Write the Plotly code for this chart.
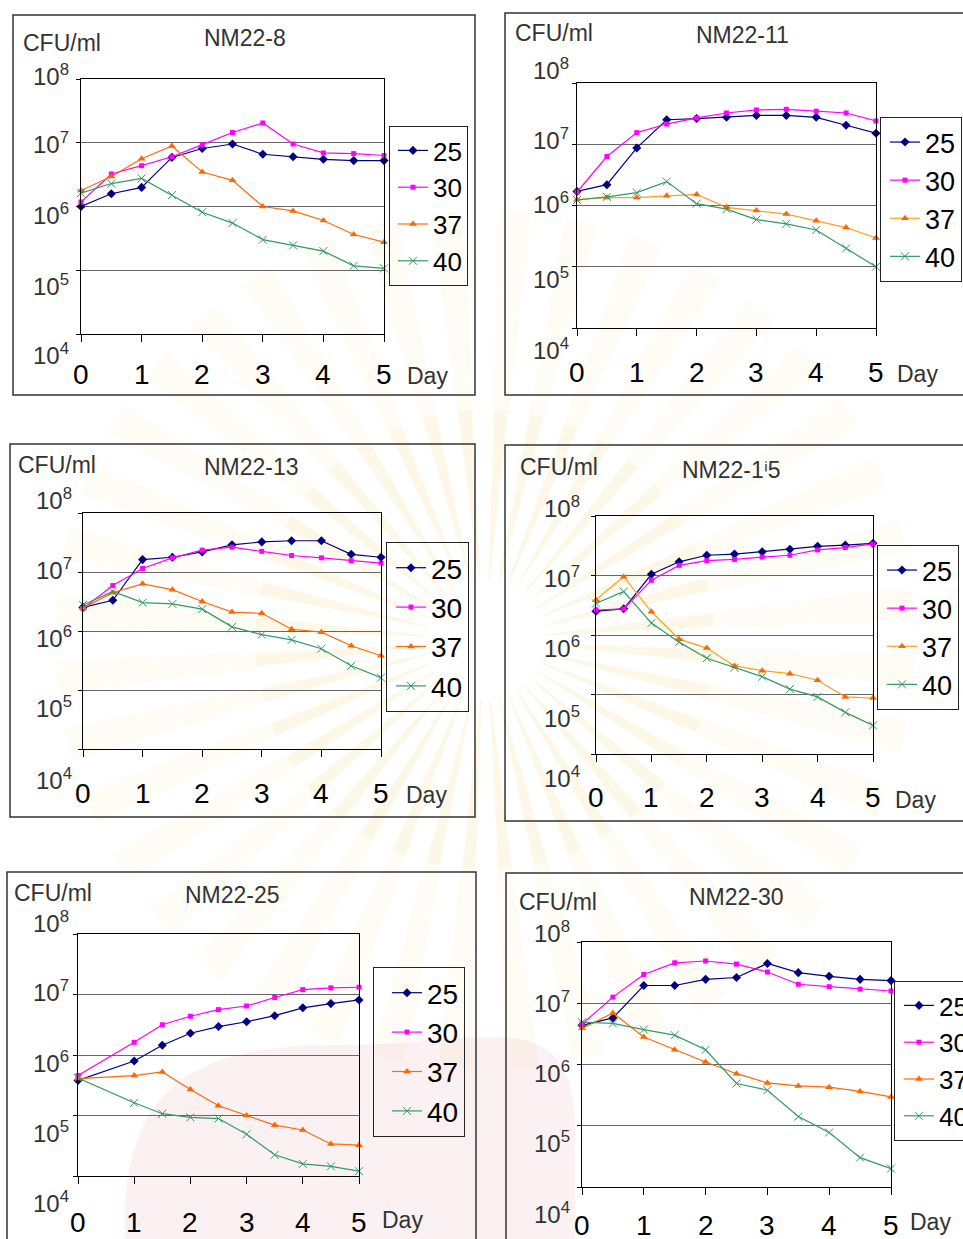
import math
import plotly.graph_objects as go

W, H = 963, 1239


def px(x):
    return x / W


def py(y):
    return 1 - y / H


# ---------------- data: log10(CFU/ml) by day and incubation temperature ----------------
days = [0, 0.5, 1, 1.5, 2, 2.5, 3, 3.5, 4, 4.5, 5]
days_nm22_25 = [0, 1, 1.5, 2, 2.5, 3, 3.5, 4, 4.5, 5]
temps = ["25", "30", "37", "40"]
strains = ["NM22-8", "NM22-11", "NM22-13", "NM22-1ⁱ5", "NM22-25", "NM22-30"]
day_labels = ["0", "1", "2", "3", "4", "5"]
decades = [8, 7, 6, 5, 4]

nm22_8 = {
    "25": [6.00, 6.20, 6.30, 6.77, 6.91, 6.98, 6.82, 6.78, 6.74, 6.72, 6.72],
    "30": [6.07, 6.51, 6.64, 6.78, 6.97, 7.16, 7.31, 6.98, 6.84, 6.83, 6.80],
    "37": [6.25, 6.47, 6.75, 6.95, 6.54, 6.41, 6.00, 5.93, 5.78, 5.56, 5.44],
    "40": [6.21, 6.36, 6.44, 6.18, 5.91, 5.74, 5.48, 5.39, 5.30, 5.07, 5.03],
}
nm22_11 = {
    "25": [6.23, 6.34, 6.94, 7.40, 7.42, 7.44, 7.47, 7.47, 7.44, 7.31, 7.18],
    "30": [6.22, 6.80, 7.19, 7.33, 7.43, 7.51, 7.56, 7.57, 7.54, 7.51, 7.38],
    "37": [6.10, 6.13, 6.13, 6.16, 6.18, 5.97, 5.92, 5.86, 5.75, 5.64, 5.47],
    "40": [6.09, 6.14, 6.21, 6.39, 6.03, 5.94, 5.77, 5.70, 5.60, 5.30, 5.00],
}
nm22_13 = {
    "25": [6.40, 6.52, 7.21, 7.25, 7.34, 7.46, 7.51, 7.53, 7.53, 7.30, 7.25],
    "30": [6.38, 6.77, 7.06, 7.24, 7.37, 7.42, 7.35, 7.28, 7.24, 7.19, 7.15],
    "37": [6.39, 6.65, 6.80, 6.70, 6.50, 6.32, 6.30, 6.03, 5.98, 5.75, 5.58],
    "40": [6.44, 6.67, 6.48, 6.46, 6.37, 6.07, 5.94, 5.85, 5.70, 5.41, 5.21],
}
nm22_15 = {
    "25": [6.40, 6.44, 7.02, 7.23, 7.34, 7.36, 7.40, 7.44, 7.49, 7.51, 7.54],
    "30": [6.42, 6.44, 6.92, 7.17, 7.25, 7.27, 7.31, 7.34, 7.43, 7.47, 7.53],
    "37": [6.59, 6.98, 6.39, 5.93, 5.78, 5.48, 5.40, 5.35, 5.24, 4.96, 4.94],
    "40": [6.53, 6.73, 6.20, 5.88, 5.61, 5.45, 5.30, 5.09, 4.96, 4.70, 4.48],
}
nm22_25 = {
    "25": [5.58, 5.90, 6.16, 6.36, 6.47, 6.55, 6.65, 6.78, 6.85, 6.91],
    "30": [5.66, 6.21, 6.50, 6.64, 6.75, 6.81, 6.95, 7.08, 7.11, 7.12],
    "37": [5.61, 5.66, 5.72, 5.43, 5.16, 5.00, 4.84, 4.76, 4.53, 4.51],
    "40": [5.62, 5.21, 5.03, 4.97, 4.95, 4.69, 4.35, 4.20, 4.16, 4.08],
}
nm22_30 = {
    "25": [6.64, 6.76, 7.29, 7.29, 7.39, 7.42, 7.65, 7.50, 7.44, 7.39, 7.37],
    "30": [6.66, 7.10, 7.47, 7.66, 7.69, 7.64, 7.51, 7.31, 7.27, 7.23, 7.20],
    "37": [6.59, 6.84, 6.45, 6.24, 6.04, 5.85, 5.70, 5.65, 5.63, 5.56, 5.47],
    "40": [6.69, 6.67, 6.57, 6.48, 6.24, 5.69, 5.58, 5.15, 4.89, 4.48, 4.30],
}

series = [nm22_8, nm22_11, nm22_13, nm22_15, nm22_25, nm22_30]
x_days = [days, days, days, days, days_nm22_25, days]

# ---------------- panel geometry (pixels) ----------------
panels = [
    dict(box=(13, 15, 475, 395), plot=(81, 79, 384, 334), ylab_x=31,
         ylab_y=[78, 146, 217, 288, 357], xlab_y=374, day=(427, 376),
         cfu=(21, 43), title=(245, 38), leg=(389, 126), leg_fs=26, indent=3,
         orange_line="#ff6a0a"),
    dict(box=(505, 13, 990, 395), plot=(577, 83, 876, 328), ylab_x=531,
         ylab_y=[72, 142, 206, 281, 352], xlab_y=372, day=(917, 374),
         cfu=(513, 33), title=(742, 35), leg=(880, 117), leg_fs=27, indent=4,
         orange_line="#ffa020"),
    dict(box=(10, 444, 475, 817), plot=(83, 513, 381, 749), ylab_x=34,
         ylab_y=[502, 572, 640, 710, 782], xlab_y=793, day=(426, 795),
         cfu=(16, 465), title=(251, 467), leg=(386, 542), leg_fs=28, indent=4,
         orange_line="#ff6a0a"),
    dict(box=(505, 445, 990, 821), plot=(596, 516, 873, 754), ylab_x=542,
         ylab_y=[510, 580, 650, 720, 780], xlab_y=797, day=(915, 800),
         cfu=(518, 467), title=(731, 470), leg=(877, 545), leg_fs=27, indent=4,
         orange_line="#ffa020"),
    dict(box=(7, 872, 476, 1260), plot=(78, 934, 359, 1176), ylab_x=31,
         ylab_y=[925, 994, 1065, 1135, 1205], xlab_y=1222, day=(402, 1220),
         cfu=(12, 893), title=(232, 895), leg=(373, 967), leg_fs=28, indent=13,
         orange_line="#ff6a0a"),
    dict(box=(506, 873, 990, 1260), plot=(582, 942, 891, 1187), ylab_x=532,
         ylab_y=[935, 1005, 1075, 1145, 1216], xlab_y=1225, day=(930, 1222),
         cfu=(517, 902), title=(736, 897), leg=(894, 981), leg_fs=26, indent=4,
         orange_line="#ff6a0a"),
]

FONT = "Liberation Sans, Arial, sans-serif"
TEXT_GREY = "#333333"

styles = {
    "25": dict(color="#000080", symbol="diamond", size=7),
    "30": dict(color="#ff00ff", symbol="square", size=5),
    "37": dict(color="#ff6600", symbol="triangle-up", size=7),
    "40": dict(color="#339966", symbol="x-thin", size=8),
}

fig = go.Figure()
layout = dict(
    width=W, height=H, autosize=False,
    margin=dict(l=0, r=0, t=0, b=0, autoexpand=False),
    paper_bgcolor="white", plot_bgcolor="rgba(0,0,0,0)",
    showlegend=True, font=dict(family=FONT, color="black"),
)
annotations = []
shapes = []


def ray_path(cx, cy, ang_deg, half_deg, r0, r1):
    ang, half = math.radians(ang_deg), math.radians(half_deg)
    pts = [
        (cx + r0 * math.cos(ang - half / 3), cy + r0 * math.sin(ang - half / 3)),
        (cx + r1 * math.cos(ang - half), cy + r1 * math.sin(ang - half)),
        (cx + r1 * math.cos(ang + half), cy + r1 * math.sin(ang + half)),
        (cx + r0 * math.cos(ang + half / 3), cy + r0 * math.sin(ang + half / 3)),
    ]
    return "M " + " L ".join(f"{px(a):.5f},{py(b):.5f}" for a, b in pts) + " Z"


# faint emblem watermark behind the panels: radiating rays and a pale pink disc
cx, cy = 485, 640
for k in range(40):
    a = -180 + k * 9 + 4
    shapes.append(dict(type="path", xref="paper", yref="paper",
                       path=ray_path(cx, cy, a, 2.2, 60, 430),
                       fillcolor="rgba(235,200,90,0.06)", line=dict(width=0),
                       layer="below"))
    shapes.append(dict(type="path", xref="paper", yref="paper",
                       path=ray_path(cx, cy, a, 1.6, 60, 230),
                       fillcolor="rgba(235,190,70,0.08)", line=dict(width=0),
                       layer="below"))
shapes.append(dict(type="path", xref="paper", yref="paper",
                   path=(f"M {px(125):.5f},{py(1239):.5f} "
                         f"C {px(120):.5f},{py(1080):.5f} {px(200):.5f},{py(1045):.5f} {px(340):.5f},{py(1045):.5f} "
                         f"C {px(480):.5f},{py(1045):.5f} {px(570):.5f},{py(1000):.5f} {px(575):.5f},{py(1120):.5f} "
                         f"L {px(575):.5f},{py(1239):.5f} Z"),
                   fillcolor="rgba(230,140,150,0.12)", line=dict(width=0),
                   layer="below"))

for i, (p, data, xd, strain) in enumerate(zip(panels, series, x_days, strains), start=1):
    suffix = "" if i == 1 else str(i)
    xa, ya = f"xaxis{suffix}", f"yaxis{suffix}"
    xr, yr = f"x{suffix}", f"y{suffix}"
    legname = f"legend{suffix}"
    l, t, r, b = p["plot"]

    layout[xa] = dict(
        domain=[px(l), px(r)], range=[0, 5], anchor=yr,
        showgrid=False, zeroline=False, showline=True, mirror=True,
        linecolor="black", linewidth=1.2,
        ticks="outside", ticklen=7, tickcolor="black", tickwidth=1,
        tickvals=[0, 1, 2, 3, 4, 5], showticklabels=False, fixedrange=True,
    )
    layout[ya] = dict(
        domain=[py(b), py(t)], type="log", range=[4, 8], anchor=xr,
        showgrid=True, gridcolor="#666666", gridwidth=1.2, dtick=1,
        zeroline=False, showline=True, mirror=True,
        linecolor="black", linewidth=1.2,
        ticks="outside", ticklen=4, tickcolor="black", tickwidth=1,
        showticklabels=False, fixedrange=True,
    )

    for temp in temps:
        st = styles[temp]
        line_color = p["orange_line"] if temp == "37" else st["color"]
        marker = dict(symbol=st["symbol"], size=st["size"], color=st["color"])
        if temp == "40":
            marker["line"] = dict(width=1, color=st["color"])
        fig.add_trace(go.Scatter(
            x=xd, y=[10 ** v for v in data[temp]], name=temp,
            mode="lines+markers", line=dict(color=line_color, width=1.2),
            marker=marker, xaxis=xr, yaxis=yr, legend=legname,
            cliponaxis=False, hoverinfo="skip",
        ))

    lx, ly = p["leg"]
    layout[legname] = dict(
        x=px(lx), y=py(ly), xanchor="left", yanchor="top",
        bgcolor="rgba(0,0,0,0)", bordercolor="#222222", borderwidth=1,
        font=dict(family=FONT, size=p["leg_fs"], color="black"),
        traceorder="normal", itemwidth=30, indentation=p["indent"],
        tracegroupgap=0,
    )

    # outer frame of the panel
    bx0, by0, bx1, by1 = p["box"]
    shapes.append(dict(type="rect", xref="paper", yref="paper",
                       x0=px(bx0), x1=px(bx1), y0=py(by1), y1=py(by0),
                       line=dict(color="#333333", width=1.5),
                       fillcolor="rgba(0,0,0,0)", layer="above"))

    # decade labels on the value axis
    for dec, yy in zip(decades, p["ylab_y"]):
        annotations.append(dict(
            text=f"10<sup>{dec}</sup>", xref="paper", yref="paper",
            x=px(p["ylab_x"]), y=py(yy - 3), xanchor="left", yanchor="middle",
            showarrow=False, font=dict(family=FONT, size=24, color=TEXT_GREY),
        ))

    # day numbers under the ticks
    for d, lab in zip([0, 1, 2, 3, 4, 5], day_labels):
        annotations.append(dict(
            text=lab, xref=xr, yref="paper", x=d, y=py(p["xlab_y"]),
            xanchor="center", yanchor="middle", showarrow=False,
            font=dict(family=FONT, size=28, color="black"),
        ))

    annotations.append(dict(
        text="Day", xref="paper", yref="paper", x=px(p["day"][0]), y=py(p["day"][1]),
        xanchor="center", yanchor="middle", showarrow=False,
        font=dict(family=FONT, size=23, color=TEXT_GREY),
    ))
    annotations.append(dict(
        text="CFU/ml", xref="paper", yref="paper", x=px(p["cfu"][0]), y=py(p["cfu"][1]),
        xanchor="left", yanchor="middle", showarrow=False,
        font=dict(family=FONT, size=23, color=TEXT_GREY),
    ))
    annotations.append(dict(
        text=strain, xref="paper", yref="paper", x=px(p["title"][0]), y=py(p["title"][1]),
        xanchor="center", yanchor="middle", showarrow=False,
        font=dict(family=FONT, size=23, color=TEXT_GREY),
    ))

layout["annotations"] = annotations
layout["shapes"] = shapes
fig.update_layout(**layout)
fig.write_html("out.html")
